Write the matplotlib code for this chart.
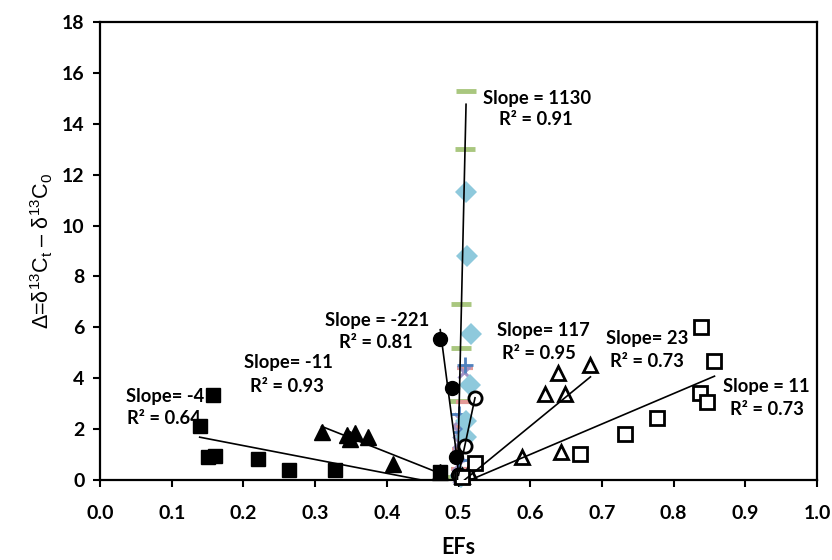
import numpy as np
import matplotlib
matplotlib.use("Agg")
import matplotlib.pyplot as plt

# Enrichment factor (EFs) vs isotope shift for each sample set
sq_x = [0.139, 0.150, 0.158, 0.160, 0.221, 0.264, 0.328, 0.474]
sq_y = [2.12, 0.90, 3.34, 0.94, 0.82, 0.39, 0.39, 0.30]

tri_x = [0.309, 0.344, 0.356, 0.349, 0.374, 0.408, 0.474]
tri_y = [1.90, 1.77, 1.83, 1.60, 1.68, 0.63, 0.30]

circ_x = [0.4745, 0.4905, 0.4960, 0.4990]
circ_y = [5.55, 3.62, 0.90, 0.20]

ocirc_x = [0.523, 0.509, 0.500]
ocirc_y = [3.24, 1.35, 0.20]

otri_x = [0.684, 0.639, 0.621, 0.649, 0.643, 0.588, 0.515, 0.505]
otri_y = [4.52, 4.22, 3.37, 3.37, 1.11, 0.89, 0.30, 0.15]

osq_x = [0.838, 0.857, 0.837, 0.846, 0.777, 0.732, 0.669, 0.523, 0.505]
osq_y = [6.00, 4.68, 3.41, 3.08, 2.42, 1.81, 1.02, 0.68, 0.10]

dash_x = [0.5105, 0.5095, 0.5040, 0.5030, 0.5010, 0.4985]
dash_y = [15.3, 13.0, 6.9, 5.2, 3.1, 0.1]

dia_x = [0.510, 0.512, 0.517, 0.516, 0.511, 0.510, 0.504]
dia_y = [11.33, 8.80, 5.74, 3.73, 2.30, 1.70, 0.13]

plus_x = [0.509, 0.503, 0.500, 0.499, 0.501]
plus_y = [4.50, 1.90, 0.80, 0.20, 2.60]

cross_x = [0.508, 0.501, 0.500, 0.501, 0.499, 0.500, 0.502]
cross_y = [4.25, 1.90, 1.50, 1.00, 0.60, 0.10, 2.40]

red_x = [0.509, 0.507, 0.502, 0.500, 0.503]
red_y = [4.40, 3.05, 1.20, 0.45, 2.10]

# slope / R² annotations: (text, x, y)
notes = [
    ("Slope = 1130", 0.534, 15.0), ("R² = 0.91", 0.556, 14.15),
    ("Slope = -221", 0.314, 6.25), ("R² = 0.81", 0.333, 5.40),
    ("Slope= -11", 0.201, 4.61), ("R² = 0.93", 0.209, 3.69),
    ("Slope= -4", 0.036, 3.30), ("R² = 0.64", 0.037, 2.42),
    ("Slope= 117", 0.553, 5.87), ("R² = 0.95", 0.561, 4.98),
    ("Slope= 23", 0.706, 5.57), ("R² = 0.73", 0.711, 4.65),
    ("Slope = 11", 0.869, 3.69), ("R² = 0.73", 0.879, 2.78),
]

plt.rcParams["mathtext.fontset"] = "custom"
plt.rcParams["mathtext.rm"] = "Liberation Sans"
plt.rcParams["mathtext.it"] = "Liberation Sans:italic"

fig = plt.figure(figsize=(8.32, 5.6), dpi=100)
ax = fig.add_axes([0.1202, 0.1429, 0.8618, 0.8178])

pastel = [
    (dash_x, dash_y, dict(marker="_", color="#a9c77f", ms=14, mew=3.5)),
    (red_x, red_y, dict(marker="_", color="#e39a97", ms=11, mew=3)),
    (cross_x, cross_y, dict(marker="x", color="#a193c6", ms=9, mew=2.2)),
    (plus_x, plus_y, dict(marker="+", color="#4f81bd", ms=11, mew=2)),
    (dia_x, dia_y, dict(marker="D", color="#8ec9dc", ms=11, mew=0)),
]
for xs, ys, st in pastel:
    ax.plot(xs, ys, ls="none", clip_on=False, zorder=2, **st)

black = [
    (sq_x, sq_y, dict(marker="s", mfc="black", mec="black", ms=10.5)),
    (tri_x, tri_y, dict(marker="^", mfc="black", mec="black", ms=11)),
    (circ_x, circ_y, dict(marker="o", mfc="black", mec="black", ms=10)),
    (ocirc_x, ocirc_y, dict(marker="o", mfc="white", mec="black", ms=9.5, mew=2)),
    (otri_x, otri_y, dict(marker="^", mfc="white", mec="black", ms=10.5, mew=2)),
    (osq_x, osq_y, dict(marker="s", mfc="white", mec="black", ms=9.5, mew=2)),
]
for xs, ys, st in black:
    ax.plot(xs, ys, ls="none", clip_on=False, zorder=3, **st)

# linear trendlines over each series' own x range
for xs, ys in [(sq_x, sq_y), (tri_x, tri_y), (circ_x, circ_y), (ocirc_x, ocirc_y),
               (otri_x, otri_y), (osq_x, osq_y), (dash_x, dash_y)]:
    m, b = np.polyfit(xs, ys, 1)
    xx = np.array([min(xs), max(xs)])
    ax.plot(xx, m * xx + b, color="black", lw=1.2, zorder=4)

for txt, x, y in notes:
    ax.text(x, y, txt, ha="left", va="center", fontsize=13.2,
            fontweight="bold", family="Lato", zorder=5)

ax.set_xlim(0, 1.0)
ax.set_ylim(0, 18)
ax.set_xticks(np.arange(0, 1.01, 0.1))
ax.set_yticks(np.arange(0, 19, 2))
ax.set_xticklabels([f"{v:.1f}" for v in np.arange(0, 1.01, 0.1)])
for lab in ax.get_xticklabels() + ax.get_yticklabels():
    lab.set_family("Lato")
    lab.set_fontweight("bold")
    lab.set_fontsize(14)
ax.tick_params(direction="out", length=5, width=1.5)
ax.tick_params(axis="x", pad=13)
ax.tick_params(axis="y", pad=6)
for s in ax.spines.values():
    s.set_linewidth(1.6)

ax.set_xlabel("EFs", family="Lato", fontweight="bold", fontsize=15.5, labelpad=11)
ax.set_ylabel("Δ=δ$^{13}$C$_{\\mathrm{t}}$ – δ$^{13}$C$_{0}$", family="Liberation Sans",
              fontsize=15.5, labelpad=5)

fig.savefig("out.png", dpi=100)
